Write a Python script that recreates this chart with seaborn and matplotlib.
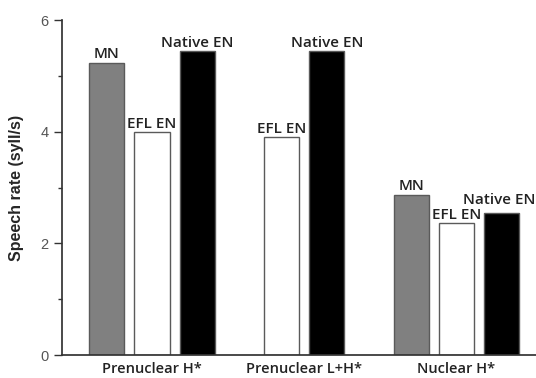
import numpy as np
import pandas as pd
import seaborn as sns
from matplotlib import pyplot as plt
from matplotlib.ticker import MultipleLocator

groups = ['Prenuclear H*', 'Prenuclear L+H*', 'Nuclear H*']
speakers = ['MN', 'EFL EN', 'Native EN']
# speech rate per group, one list per speaker group (None = not measured)
mn_rate = [5.23, None, 2.87]
efl_rate = [3.99, 3.90, 2.36]
native_rate = [5.44, 5.44, 2.54]
colors = {'MN': '#808080', 'EFL EN': '#ffffff', 'Native EN': '#000000'}

sns.set_theme(style='ticks')
plt.rcParams['font.family'] = ['Open Sans', 'DejaVu Sans']

step = 0.296
bar_w = 0.23

rows = []
for gi, g in enumerate(groups):
    vals = [mn_rate[gi], efl_rate[gi], native_rate[gi]]
    present = [(s, v) for s, v in zip(speakers, vals) if v is not None]
    n = len(present)
    for k, (s, v) in enumerate(present):
        rows.append({'pos': gi + (k - (n - 1) / 2) * step, 'rate': v, 'speaker': s})
df = pd.DataFrame(rows)

fig, ax = plt.subplots(figsize=(5.36, 3.78), dpi=100)
fig.subplots_adjust(left=0.1157, right=1.0, bottom=0.0608, top=0.947)

sns.barplot(data=df, x='pos', y='rate', hue='speaker', hue_order=speakers,
            palette=colors, native_scale=True, dodge=False,
            width=bar_w / step, edgecolor='#5a5a5a', linewidth=1.0,
            legend=False, ax=ax)

xmax = 2.522
for _, r in df.iterrows():
    x, ha, dy = r['pos'], 'center', 0.03
    # the last label would run past the figure edge; pin it to the right
    # and lift it a touch so it clears the EFL EN label beside it
    if r['pos'] + 0.24 > xmax:
        x, ha, dy = xmax - 0.005, 'right', 0.12
    ax.text(x, r['rate'] + dy, r['speaker'], ha=ha, va='bottom',
            fontsize=11, fontweight='semibold', color='#222222', clip_on=False)

ax.set_xlim(-0.591, xmax)
ax.set_ylim(0, 6)
ax.set_xticks(range(len(groups)))
ax.set_xticklabels(groups, fontsize=10.5, fontweight='semibold', color='#222222')
ax.tick_params(axis='x', length=0, pad=5)
ax.yaxis.set_major_locator(MultipleLocator(2))
ax.yaxis.set_minor_locator(MultipleLocator(1))
ax.tick_params(axis='y', which='major', length=6, width=1, color='#333333',
               labelsize=10.5, labelcolor='#555555')
ax.tick_params(axis='y', which='minor', length=3, width=1, color='#333333')
for lab in ax.get_yticklabels():
    lab.set_family(['Liberation Sans', 'DejaVu Sans'])
ax.set_xlabel('')
ax.set_ylabel('Speech rate (syll/s)', fontsize=11.5, fontweight='bold',
              family=['Liberation Sans', 'DejaVu Sans'], labelpad=12)
sns.despine(ax=ax)
ax.spines['left'].set_color('#333333')
ax.spines['bottom'].set_color('#333333')

fig.savefig('out.png', dpi=100)
